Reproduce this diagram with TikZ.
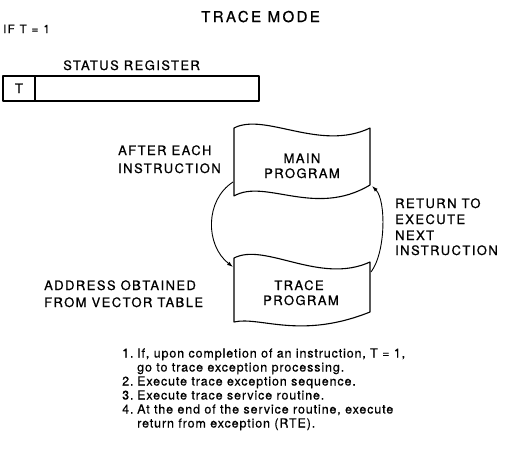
\documentclass[tikz,border=0pt]{standalone}
\usepackage{fontspec}
\setmainfont{TeX Gyre Heros}
\newfontfamily\labfont{TeX Gyre Heros}[LetterSpace=11,FakeBold=0.8]
\newfontfamily\titlefont{TeX Gyre Heros}[LetterSpace=16,FakeBold=0.8]
\newfontfamily\listfont{TeX Gyre Heros}[LetterSpace=7,FakeBold=0.5]
\usetikzlibrary{arrows.meta}
\begin{document}
\begin{tikzpicture}[x=1pt,y=-1pt,
  lab/.style={font=\labfont\fontsize{13}{15}\selectfont, inner sep=0pt, anchor=base west},
  labc/.style={font=\labfont\fontsize{13}{15}\selectfont, inner sep=0pt, anchor=base},
  ttl/.style={font=\titlefont\fontsize{15}{17}\selectfont, inner sep=0pt, anchor=base west},
  itm/.style={font=\listfont\fontsize{12.5}{14}\selectfont, inner sep=0pt, anchor=base west},
  shp/.style={draw, line width=1.1pt, line join=round},
  arc/.style={draw, line width=0.9pt, -{Latex[length=6pt,width=4pt]}}]
\useasboundingbox (0,0) rectangle (509,448);

% title and heading
\node[ttl] (title) at (201,22) {TRACE MODE};
\node[lab, font=\labfont\fontsize{11.5}{13}\selectfont] (ift) at (3,33) {IF\hspace{5pt}T\hspace{5pt}=\hspace{5pt}1};
\node[lab] (srlabel) at (63,70) {STATUS REGISTER};

% status register
\draw[shp] (3,76) rectangle (259,101);
\draw[shp] (35,76) -- (35,101);
\node[labc] (tbit) at (19,93) {T};

% main program shape
\draw[shp] (234,128) .. controls (265,112) and (320,152) .. (370,128)
  -- (370,185) .. controls (315,218) and (265,178) .. (234,196) -- cycle;
\node[labc] (mainA) at (302,163) {MAIN};
\node[labc] (mainB) at (302,178) {PROGRAM};

% trace program shape
\draw[shp] (234,258) .. controls (265,242) and (320,285) .. (370,262)
  -- (370,312) .. controls (300,340) and (260,316) .. (234,322) -- cycle;
\node[labc] (traceA) at (299,290) {TRACE};
\node[labc] (traceB) at (301,305) {PROGRAM};

% arc endpoints
\coordinate (mainL) at (233,182);
\coordinate (traceL) at (233,267);
\coordinate (traceR) at (371,272);
\coordinate (mainR) at (372,186);
\draw[arc] (mainL) .. controls (205,200) and (205,245) .. (traceL);
\draw[arc] (traceR) .. controls (386,252) and (386,200) .. (mainR);

% side labels
\node[lab] (after1) at (118,155) {AFTER EACH};
\node[lab] (after2) at (118,173) {INSTRUCTION};
\node[lab] (addr1) at (44,290) {ADDRESS OBTAINED};
\node[lab] (addr2) at (44,307) {FROM VECTOR TABLE};
\node[lab] (ret1) at (395,208) {RETURN TO};
\node[lab] (ret2) at (395,224) {EXECUTE};
\node[lab] (ret3) at (395,240) {NEXT};
\node[lab] (ret4) at (395,255) {INSTRUCTION};

% numbered list
\node[itm] (n1) at (122,357.5) {1.};
\node[itm] (t1a) at (137,357.5) {If, upon completion of an instruction, T = 1,};
\node[itm] (t1b) at (137,371.5) {go to trace exception processing.};
\node[itm] (n2) at (122,385.5) {2.};
\node[itm] (t2) at (137,385.5) {Execute trace exception sequence.};
\node[itm] (n3) at (122,399.5) {3.};
\node[itm] (t3) at (137,399.5) {Execute trace service routine.};
\node[itm] (n4) at (122,413.5) {4.};
\node[itm] (t4a) at (137,413.5) {At the end of the service routine, execute};
\node[itm] (t4b) at (137,427.5) {return from exception (RTE).};
\end{tikzpicture}
\end{document}
